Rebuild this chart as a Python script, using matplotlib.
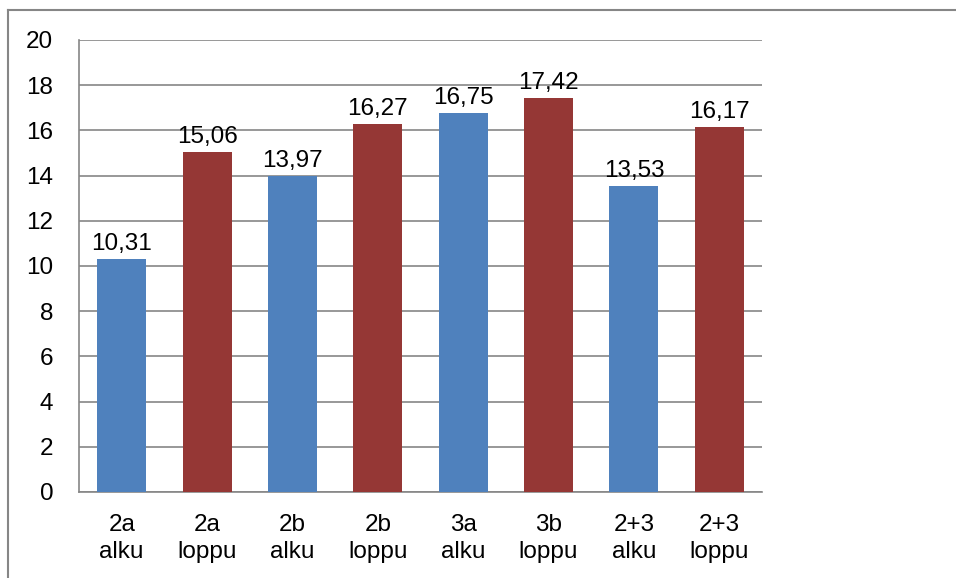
import numpy as np
import matplotlib.pyplot as plt
from matplotlib.lines import Line2D

plt.rcParams['font.family'] = ['Liberation Sans', 'DejaVu Sans']

categories = ['2a\nalku', '2a\nloppu', '2b\nalku', '2b\nloppu',
              '3a\nalku', '3b\nloppu', '2+3\nalku', '2+3\nloppu']
values = [10.31, 15.06, 13.97, 16.27, 16.75, 17.42, 13.53, 16.17]

blue = '#4F81BD'
red = '#953735'
colours = [blue, red] * 4
axis_grey = '#868686'
fs = 17.5

fig = plt.figure(figsize=(9.56, 5.78), dpi=100)
ax = fig.add_axes([79 / 956, 1 - 492 / 578, (762 - 79) / 956, (492 - 40) / 578])

x = np.arange(len(categories))
bars = ax.bar(x, values, width=0.575, color=colours, zorder=3)

for b, v in zip(bars, values):
    ax.annotate(f'{v:.2f}'.replace('.', ','), (b.get_x() + b.get_width() / 2, v),
                xytext=(0, 6.5), textcoords='offset points',
                ha='center', va='baseline', fontsize=fs)

ax.set_xlim(-0.5, len(categories) - 0.5)
ax.set_ylim(0, 20)
ax.set_yticks(range(0, 21, 2))
ax.set_xticks(x)
ax.set_xticklabels(categories, fontsize=fs, linespacing=1.3)
ax.tick_params(axis='y', labelsize=fs, length=0, pad=18.5)
ax.tick_params(axis='x', length=0, pad=16)

ax.grid(axis='y', color=axis_grey, linewidth=1.2, zorder=0)
for side in ['top', 'right']:
    ax.spines[side].set_visible(False)
for side in ['left', 'bottom']:
    ax.spines[side].set_color(axis_grey)
    ax.spines[side].set_linewidth(1.2)

# outer chart border (top and left only visible)
bx, by = 8 / 956, 1 - 10 / 578
fig.add_artist(Line2D([bx, 1], [by, by], color=axis_grey, linewidth=1.5))
fig.add_artist(Line2D([bx, bx], [by, 0], color=axis_grey, linewidth=1.5))

fig.savefig('out.png', dpi=100)
